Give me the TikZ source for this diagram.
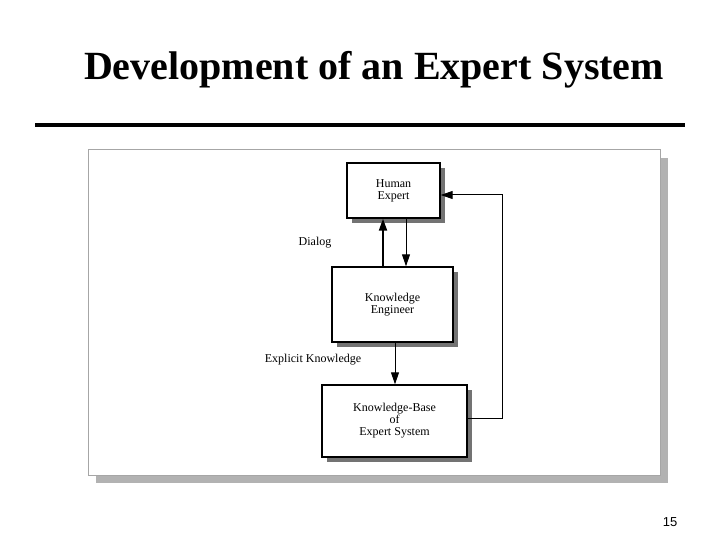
\documentclass[tikz,border=0pt]{standalone}
\usepackage{fontspec}
\setmainfont{Liberation Serif}
\newfontfamily\arialf{Liberation Sans}
\usetikzlibrary{arrows.meta}
\definecolor{shad}{gray}{0.45}
\begin{document}
\begin{tikzpicture}[x=1pt,y=-1pt,
  box/.style={draw,line width=1.4pt,fill=white,align=center,font=\fontsize{12}{12}\selectfont,inner sep=0pt},
  lbl/.style={font=\fontsize{12}{12}\selectfont,inner sep=0pt},
  arr/.style={line width=1pt,-{Triangle[length=12pt,width=8pt]}}]
\useasboundingbox (0,0) rectangle (720,540);
\fill[white] (0,0) rectangle (720,540);
\node[font=\bfseries\fontsize{40}{40}\selectfont] (title) at (374,70) {Development of an Expert System};
\draw[line width=4pt] (35,125) -- (685,125);
% panel
\fill[gray!60] (96,158) rectangle (668,483);
\draw[gray!70,fill=white,line width=1pt] (88,150) rectangle (660,475);
% boxes with shadows
\fill[shad] (352,168) rectangle (445,223);
\node[box,minimum width=93pt,minimum height=55pt] (he) at (393.5,190.5) {Human\\Expert};
\fill[shad] (337,272) rectangle (458,347);
\node[box,minimum width=121pt,minimum height=75pt] (ke) at (392.5,304.5) {Knowledge\\Engineer};
\fill[shad] (327,390) rectangle (472,462);
\node[box,minimum width=145pt,minimum height=72pt] (kb) at (394.5,421) {Knowledge-Base\\of\\Expert System};
% arrows
\draw[arr,line width=2pt] (ke.north -| 383,0) -- (he.south -| 383,0);
\draw[arr] (he.south -| 406,0) -- (ke.north -| 406,0);
\draw[arr] (ke.south -| 395,0) -- (kb.north -| 395,0);
\coordinate (c1) at (502,418);
\coordinate (c2) at (502,195);
\draw[arr] (kb.east |- c1) -- (c1) -- (c2) -- (he.east |- c2);
\node[lbl] (dialog) at (315,243) {Dialog};
\node[lbl] (ek) at (313,360) {Explicit Knowledge};
\node[font=\arialf\fontsize{13}{13}\selectfont] (pg) at (670,522) {15};
\end{tikzpicture}
\end{document}
